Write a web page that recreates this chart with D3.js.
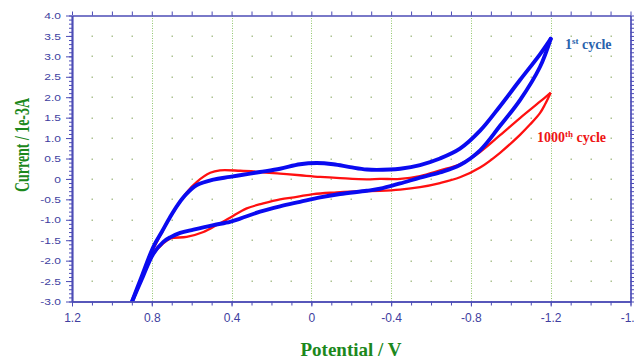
<!DOCTYPE html>
<html>
<head>
<meta charset="utf-8">
<script src="https://cdn.jsdelivr.net/npm/d3@7/dist/d3.min.js"></script>
<style>
    body { margin: 0; background: #fff; }
</style>
</head>
<body>
<div class="static-image"></div>
<script>
// tick values and labels
var xTicks = [1.2, 0.8, 0.4, 0, -0.4, -0.8, -1.2, -1.6];
var xLabels = ["1.2", "0.8", "0.4", "0", "-0.4", "-0.8", "-1.2", "-1.6"];
var yTicks = [4.0, 3.5, 3.0, 2.5, 2.0, 1.5, 1.0, 0.5, 0, -0.5, -1.0, -1.5, -2.0, -2.5, -3.0];
var yLabels = ["4.0", "3.5", "3.0", "2.5", "2.0", "1.5", "1.0", "0.5", "0", "-0.5", "-1.0", "-1.5", "-2.0", "-2.5", "-3.0"];

// 1st cycle, [potential V, current 1e-3A]
var cycle1Upper = [
    [0.90, -3.01], [0.854, -2.43], [0.792, -1.66], [0.748, -1.28], [0.708, -0.93],
    [0.668, -0.62], [0.625, -0.36], [0.574, -0.15], [0.491, -0.015], [0.408, 0.05],
    [0.307, 0.13], [0.257, 0.17], [0.157, 0.25], [0.057, 0.36], [-0.027, 0.39],
    [-0.110, 0.36], [-0.194, 0.29], [-0.278, 0.23], [-0.394, 0.23], [-0.445, 0.25],
    [-0.545, 0.34], [-0.645, 0.50], [-0.745, 0.74], [-0.846, 1.18], [-0.946, 1.78],
    [-1.046, 2.42], [-1.146, 3.05], [-1.20, 3.43]
];
var cycle1Lower = [
    [-1.20, 3.43], [-1.146, 2.74], [-1.046, 1.93], [-0.946, 1.30], [-0.846, 0.70],
    [-0.745, 0.34], [-0.645, 0.16], [-0.545, 0.03], [-0.445, -0.11], [-0.344, -0.24],
    [-0.278, -0.29], [-0.144, -0.37], [-0.044, -0.45], [0.057, -0.56], [0.157, -0.67],
    [0.257, -0.80], [0.357, -0.97], [0.408, -1.05], [0.491, -1.13], [0.591, -1.24],
    [0.658, -1.32], [0.708, -1.43], [0.742, -1.54], [0.792, -1.83], [0.854, -2.50],
    [0.90, -3.02]
];

// 1000th cycle
var cycle1000Upper = [
    [0.90, -3.01], [0.854, -2.45], [0.792, -1.72], [0.748, -1.30], [0.708, -0.94],
    [0.625, -0.33], [0.574, -0.07], [0.507, 0.15], [0.458, 0.21], [0.357, 0.20],
    [0.257, 0.17], [0.157, 0.13], [0.057, 0.09], [-0.044, 0.05], [-0.144, 0.02],
    [-0.278, -0.01], [-0.344, 0.00], [-0.445, 0.00], [-0.545, 0.07], [-0.645, 0.21],
    [-0.745, 0.36], [-0.846, 0.66], [-0.946, 1.07], [-1.046, 1.49], [-1.146, 1.89],
    [-1.20, 2.11]
];
var cycle1000Lower = [
    [-1.20, 2.11], [-1.171, 1.82], [-1.146, 1.61], [-1.096, 1.33], [-1.046, 1.08],
    [-0.946, 0.64], [-0.846, 0.28], [-0.745, 0.04], [-0.645, -0.10], [-0.545, -0.20],
    [-0.445, -0.26], [-0.344, -0.29], [-0.244, -0.30], [-0.127, -0.33], [-0.010, -0.37],
    [0.073, -0.44], [0.157, -0.50], [0.241, -0.60], [0.324, -0.72], [0.408, -0.95],
    [0.474, -1.13], [0.541, -1.30], [0.625, -1.42], [0.708, -1.46], [0.748, -1.60],
    [0.792, -1.84], [0.854, -2.50], [0.90, -3.02]
];

var width = 634;
var height = 360;
var plot = { left: 72, right: 630.5, top: 15.5, bottom: 301.5 };
var axisColor = "#4c4cb6";
var labelColor = "#4040a0";
var titleColor = "#1c881c";

var x = d3.scaleLinear().domain([1.2, -1.6]).range([plot.left, plot.right]);
var y = d3.scaleLinear().domain([-3, 4]).range([plot.bottom, plot.top]);

// minor tick positions, every 0.1
var xMinor = d3.range(-16, 13).map(function (i) { return i / 10; });
var yMinor = d3.range(-30, 41).map(function (i) { return i / 10; });

var svg = d3.select(".static-image")
    .append("svg")
    .attr("width", width)
    .attr("height", height);

drawGrid();
drawCurves();
drawAxes();
drawTexts();

function drawGrid() {
    var majors = xTicks.slice(1, -1);
    svg.append("g")
        .selectAll("line")
        .data(majors)
        .enter()
        .append("line")
        .attr("x1", function (d) { return Math.round(x(d)) + 0.5; })
        .attr("x2", function (d) { return Math.round(x(d)) + 0.5; })
        .attr("y1", plot.top)
        .attr("y2", plot.bottom)
        .attr("stroke", "#92c66e")
        .attr("stroke-width", 1)
        .attr("stroke-dasharray", "1,1.5");

    // dot grid: every 0.1 V, every 0.5 mA
    var dotX = xMinor.filter(function (v) { return Math.round(v * 10) % 4 !== 0; });
    var dotY = yTicks.slice(1, -1);
    var pts = [];
    dotY.forEach(function (yy) {
        dotX.forEach(function (xx) { pts.push([xx, yy]); });
    });
    svg.append("g")
        .selectAll("rect")
        .data(pts)
        .enter()
        .append("rect")
        .attr("x", function (d) { return Math.round(x(d[0])) - 0.5; })
        .attr("y", function (d) { return Math.round(y(d[1])) - 0.5; })
        .attr("width", 1.5)
        .attr("height", 1.5)
        .attr("fill", "#adc292");
}

function drawCurves() {
    svg.append("clipPath")
        .attr("id", "clip")
        .append("rect")
        .attr("x", plot.left)
        .attr("y", plot.top)
        .attr("width", plot.right - plot.left)
        .attr("height", plot.bottom - plot.top);

    var line = d3.line()
        .x(function (d) { return x(d[0]); })
        .y(function (d) { return y(d[1]); })
        .curve(d3.curveCatmullRom.alpha(0.5));

    var g = svg.append("g").attr("clip-path", "url(#clip)");
    [cycle1000Upper, cycle1000Lower].forEach(function (data) {
        g.append("path")
            .attr("d", line(data))
            .attr("fill", "none")
            .attr("stroke", "#ff1010")
            .attr("stroke-width", 2.3)
            .attr("stroke-linejoin", "round");
    });
    [cycle1Upper, cycle1Lower].forEach(function (data) {
        g.append("path")
            .attr("d", line(data))
            .attr("fill", "none")
            .attr("stroke", "#0a0af0")
            .attr("stroke-width", 3.9)
            .attr("stroke-linejoin", "round")
            .attr("stroke-linecap", "round");
    });
}

function styleAxis(g) {
    g.selectAll("path, line").attr("stroke", axisColor);
    g.select(".domain").attr("stroke-width", 1.7);
    g.selectAll("text")
        .attr("fill", labelColor)
        .style("font-family", "'Liberation Sans', Arial, sans-serif")
        .style("font-size", "12px");
}

function drawAxes() {
    // bottom
    svg.append("g")
        .attr("transform", "translate(0," + plot.bottom + ")")
        .call(d3.axisBottom(x).tickValues(xMinor).tickSize(4).tickSizeOuter(0).tickFormat(""))
        .call(styleAxis);
    svg.append("g")
        .attr("transform", "translate(0," + plot.bottom + ")")
        .call(d3.axisBottom(x).tickValues(xTicks).tickSize(5).tickPadding(7).tickSizeOuter(0)
            .tickFormat(function (d, i) { return xLabels[i]; }))
        .call(styleAxis);
    // top
    svg.append("g")
        .attr("transform", "translate(0," + plot.top + ")")
        .call(d3.axisTop(x).tickValues(xMinor).tickSize(4).tickSizeOuter(0).tickFormat(""))
        .call(styleAxis);
    // left
    svg.append("g")
        .attr("transform", "translate(" + plot.left + ",0)")
        .call(d3.axisLeft(y).tickValues(yMinor).tickSize(3).tickSizeOuter(0).tickFormat(""))
        .call(styleAxis);
    var left = svg.append("g")
        .attr("transform", "translate(" + plot.left + ",0)")
        .call(d3.axisLeft(y).tickValues(yTicks).tickSize(6).tickPadding(5).tickSizeOuter(0)
            .tickFormat(function (d, i) { return yLabels[i]; }))
        .call(styleAxis);
    left.selectAll("text").attr("transform", "scale(1,0.82)");
    // right
    svg.append("g")
        .attr("transform", "translate(" + plot.right + ",0)")
        .call(d3.axisRight(y).tickValues(yMinor).tickSize(4).tickSizeOuter(0).tickFormat(""))
        .call(styleAxis);
}

function drawTexts() {
    svg.append("text")
        .attr("x", 351)
        .attr("y", 355.5)
        .attr("text-anchor", "middle")
        .attr("fill", titleColor)
        .style("font-family", "'Liberation Serif', 'Times New Roman', serif")
        .style("font-weight", "bold")
        .style("font-size", "19px")
        .text("Potential / V");

    svg.append("text")
        .attr("transform", "translate(28.5,145) rotate(-90)")
        .attr("text-anchor", "middle")
        .attr("fill", titleColor)
        .attr("textLength", 94)
        .attr("lengthAdjust", "spacingAndGlyphs")
        .style("font-family", "'Liberation Serif', 'Times New Roman', serif")
        .style("font-weight", "bold")
        .style("font-size", "20px")
        .text("Current / 1e-3A");

    var l1 = svg.append("text")
        .attr("x", 565)
        .attr("y", 49)
        .attr("fill", "#2a63ad")
        .style("font-family", "'Liberation Serif', 'Times New Roman', serif")
        .style("font-weight", "bold")
        .style("font-size", "14px");
    l1.append("tspan").text("1");
    l1.append("tspan").attr("dy", -5).style("font-size", "9px").text("st");
    l1.append("tspan").attr("dy", 5).text(" cycle");

    var l2 = svg.append("text")
        .attr("x", 537)
        .attr("y", 142)
        .attr("fill", "#ee1414")
        .style("font-family", "'Liberation Serif', 'Times New Roman', serif")
        .style("font-weight", "bold")
        .style("font-size", "14px");
    l2.append("tspan").text("1000");
    l2.append("tspan").attr("dy", -5).style("font-size", "9px").text("th");
    l2.append("tspan").attr("dy", 5).text(" cycle");
}
</script>
</body>
</html>
